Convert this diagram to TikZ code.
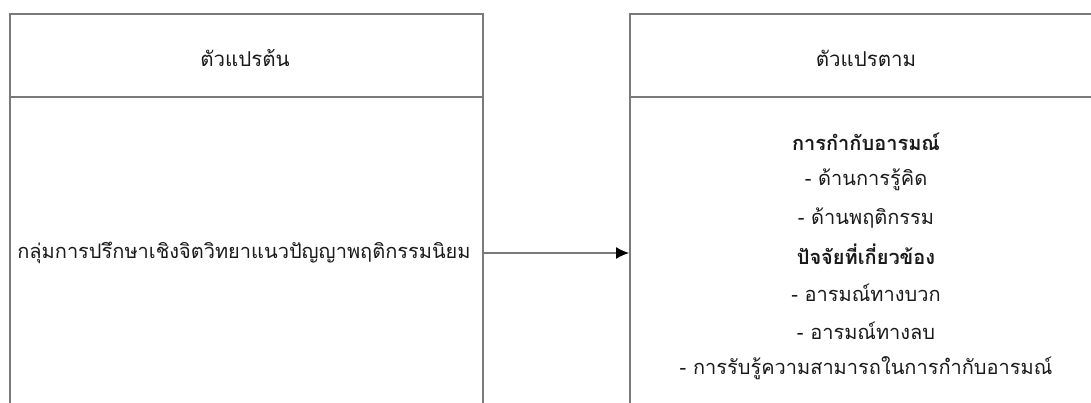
\documentclass[tikz,border=0pt]{standalone}
\usepackage{fontspec}
\newfontfamily\thai[Script=Thai]{Loma}
\usetikzlibrary{arrows.meta}
\definecolor{boxgray}{HTML}{7A7A7A}
\definecolor{txt}{HTML}{1A1A1A}
\tikzset{
  frame/.style={draw=boxgray, line width=1.8pt, rectangle, inner sep=0pt, anchor=north west},
  rule/.style={draw=boxgray, line width=1.8pt},
  head/.style={font=\thai\fontsize{20.5}{24}\selectfont, text=txt, inner sep=0pt},
  body/.style={font=\thai\fontsize{20}{24}\selectfont, text=txt, inner sep=0pt},
  bodyb/.style={font=\thai\bfseries\fontsize{20}{24}\selectfont, text=txt, inner sep=0pt},
  conn/.style={draw=boxgray, line width=1.3pt, -{Latex[length=13pt,width=12pt,black]}}
}
\begin{document}
\begin{tikzpicture}[x=1pt,y=-1pt]
\useasboundingbox (0,0) rectangle (1091,403);
\clip (0,0) rectangle (1091,403);
\node[frame, minimum width=473pt, minimum height=440pt] (L) at (9,13) {};
\node[frame, minimum width=480pt, minimum height=440pt] (R) at (629,13) {};
\draw[rule] (L.west |- 0,97) -- (L.east |- 0,97);
\draw[rule] (R.west |- 0,97) -- (R.east |- 0,97);
\node[head] (hl) at (245,58) {ตัวแปรต้น};
\node[head] (hr) at (866,58) {ตัวแปรตาม};
\node[body] (m) at (244,253) {กลุ่มการปรึกษาเชิงจิตวิทยาแนวปัญญาพฤติกรรมนิยม};
\node[bodyb] (r1) at (866,142) {การกำกับอารมณ์};
\node[body] (r2) at (866,180) {- ด้านการรู้คิด};
\node[body] (r3) at (866,218) {- ด้านพฤติกรรม};
\node[bodyb] (r4) at (866,254) {ปัจจัยที่เกี่ยวข้อง};
\node[body] (r5) at (866,293) {- อารมณ์ทางบวก};
\node[body] (r6) at (866,331) {- อารมณ์ทางลบ};
\node[body] (r7) at (866,368) {- การรับรู้ความสามารถในการกำกับอารมณ์};
\coordinate (a1) at (L.east |- 0,253);
\coordinate (a2) at (R.west |- 0,253);
\draw[conn] (a1) -- (a2);
\end{tikzpicture}
\end{document}
